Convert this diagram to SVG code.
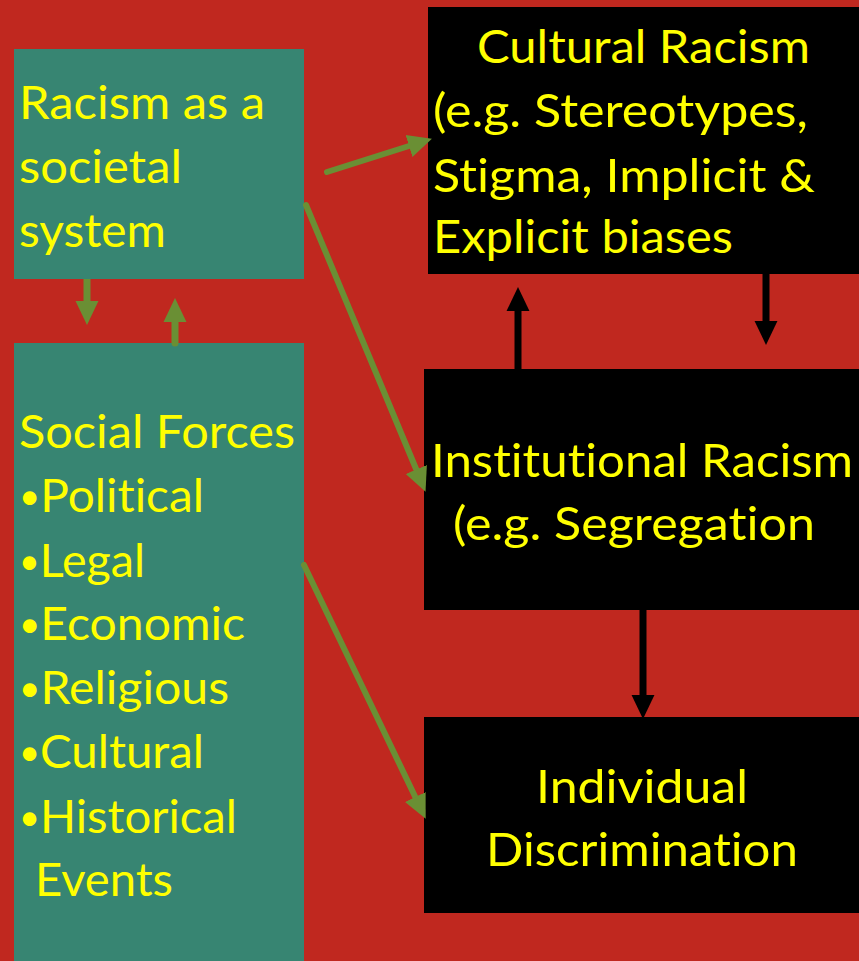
<svg xmlns="http://www.w3.org/2000/svg" width="859" height="961" viewBox="0 0 859 961">
<style>
.bg{fill:#C0281F}
.green{fill:#378572}
.black{fill:#000000}
text{font-family:Lato,"Open Sans","Noto Sans",sans-serif;font-size:47px;fill:#FFFF00;font-variant-ligatures:none;font-feature-settings:"liga" 0,"clig" 0}
.bul{font-size:36px}
.ga{stroke:#6A8F34;stroke-width:7;fill:none}
.gd{stroke:#6A8F34;stroke-width:6;fill:none;stroke-linecap:round}
.ba{stroke:#000000;stroke-width:7;fill:none}
</style>
<defs>
<marker id="gh" markerUnits="userSpaceOnUse" markerWidth="24" markerHeight="24" viewBox="0 -11 22 22" refX="0" refY="0" orient="auto">
<path d="M0,-10.5 L22,0 L0,10.5 z" fill="#6A8F34"/>
</marker>
<marker id="bh" markerUnits="userSpaceOnUse" markerWidth="24" markerHeight="24" viewBox="0 -11 22 22" refX="0" refY="0" orient="auto">
<path d="M0,-10.5 L22,0 L0,10.5 z" fill="#000000"/>
</marker>
</defs>
<rect class="bg" x="0" y="0" width="859" height="961"/>

<g id="racism-system">
<rect class="green" x="14" y="49" width="290" height="230"/>
<text x="19" y="119" textLength="246" lengthAdjust="spacingAndGlyphs">Racism as a</text>
<text x="19" y="183" textLength="163" lengthAdjust="spacingAndGlyphs">societal</text>
<text x="19" y="247" textLength="147" lengthAdjust="spacingAndGlyphs">system</text>
</g>

<g id="social-forces">
<rect class="green" x="14" y="343" width="290" height="618"/>
<text x="19" y="448" textLength="276" lengthAdjust="spacingAndGlyphs">Social Forces</text>
<text x="19" y="512" textLength="185" lengthAdjust="spacingAndGlyphs"><tspan class="bul" dy="-3">•</tspan><tspan dy="3">Political</tspan></text>
<text x="19" y="577" textLength="126" lengthAdjust="spacingAndGlyphs"><tspan class="bul" dy="-3">•</tspan><tspan dy="3">Legal</tspan></text>
<text x="19" y="640" textLength="226" lengthAdjust="spacingAndGlyphs"><tspan class="bul" dy="-3">•</tspan><tspan dy="3">Economic</tspan></text>
<text x="19" y="704" textLength="210" lengthAdjust="spacingAndGlyphs"><tspan class="bul" dy="-3">•</tspan><tspan dy="3">Religious</tspan></text>
<text x="19" y="768" textLength="185" lengthAdjust="spacingAndGlyphs"><tspan class="bul" dy="-3">•</tspan><tspan dy="3">Cultural</tspan></text>
<text x="19" y="833" textLength="218" lengthAdjust="spacingAndGlyphs"><tspan class="bul" dy="-3">•</tspan><tspan dy="3">Historical</tspan></text>
<text x="35" y="896" textLength="138" lengthAdjust="spacingAndGlyphs">Events</text>
</g>

<g id="cultural-racism">
<rect class="black" x="428" y="7" width="431" height="267"/>
<text x="477" y="63" textLength="333" lengthAdjust="spacingAndGlyphs">Cultural Racism</text>
<text x="433" y="127" textLength="375" lengthAdjust="spacingAndGlyphs">(e.g. Stereotypes,</text>
<text x="433" y="192" textLength="382" lengthAdjust="spacingAndGlyphs">Stigma, Implicit &amp;</text>
<text x="433" y="253" textLength="300" lengthAdjust="spacingAndGlyphs">Explicit biases</text>
</g>

<g id="institutional-racism">
<rect class="black" x="424" y="369" width="435" height="241"/>
<text x="431" y="477" textLength="422" lengthAdjust="spacingAndGlyphs">Institutional Racism</text>
<text x="453" y="540" textLength="362" lengthAdjust="spacingAndGlyphs">(e.g. Segregation</text>
</g>

<g id="individual-discrimination">
<rect class="black" x="424" y="717" width="435" height="196"/>
<text x="536" y="803" textLength="212" lengthAdjust="spacingAndGlyphs">Individual</text>
<text x="486" y="866" textLength="312" lengthAdjust="spacingAndGlyphs">Discrimination</text>
</g>

<g id="connectors">
<line class="ga" x1="87" y1="279" x2="87" y2="301" marker-end="url(#gh)"/>
<line class="ga" x1="175" y1="343" x2="175" y2="322" marker-end="url(#gh)" stroke-linecap="round"/>
<line class="gd" x1="327" y1="172" x2="409" y2="146" marker-end="url(#gh)"/>
<line class="gd" x1="306" y1="205" x2="416.3" y2="469.5" marker-end="url(#gh)"/>
<line class="gd" x1="304" y1="565" x2="415.3" y2="797" marker-end="url(#gh)"/>
<line class="ba" x1="518" y1="370" x2="518" y2="311" marker-end="url(#bh)"/>
<line class="ba" x1="766" y1="274" x2="766" y2="321" marker-end="url(#bh)"/>
<line class="ba" x1="643" y1="610" x2="643" y2="695" marker-end="url(#bh)"/>
</g>
</svg>
